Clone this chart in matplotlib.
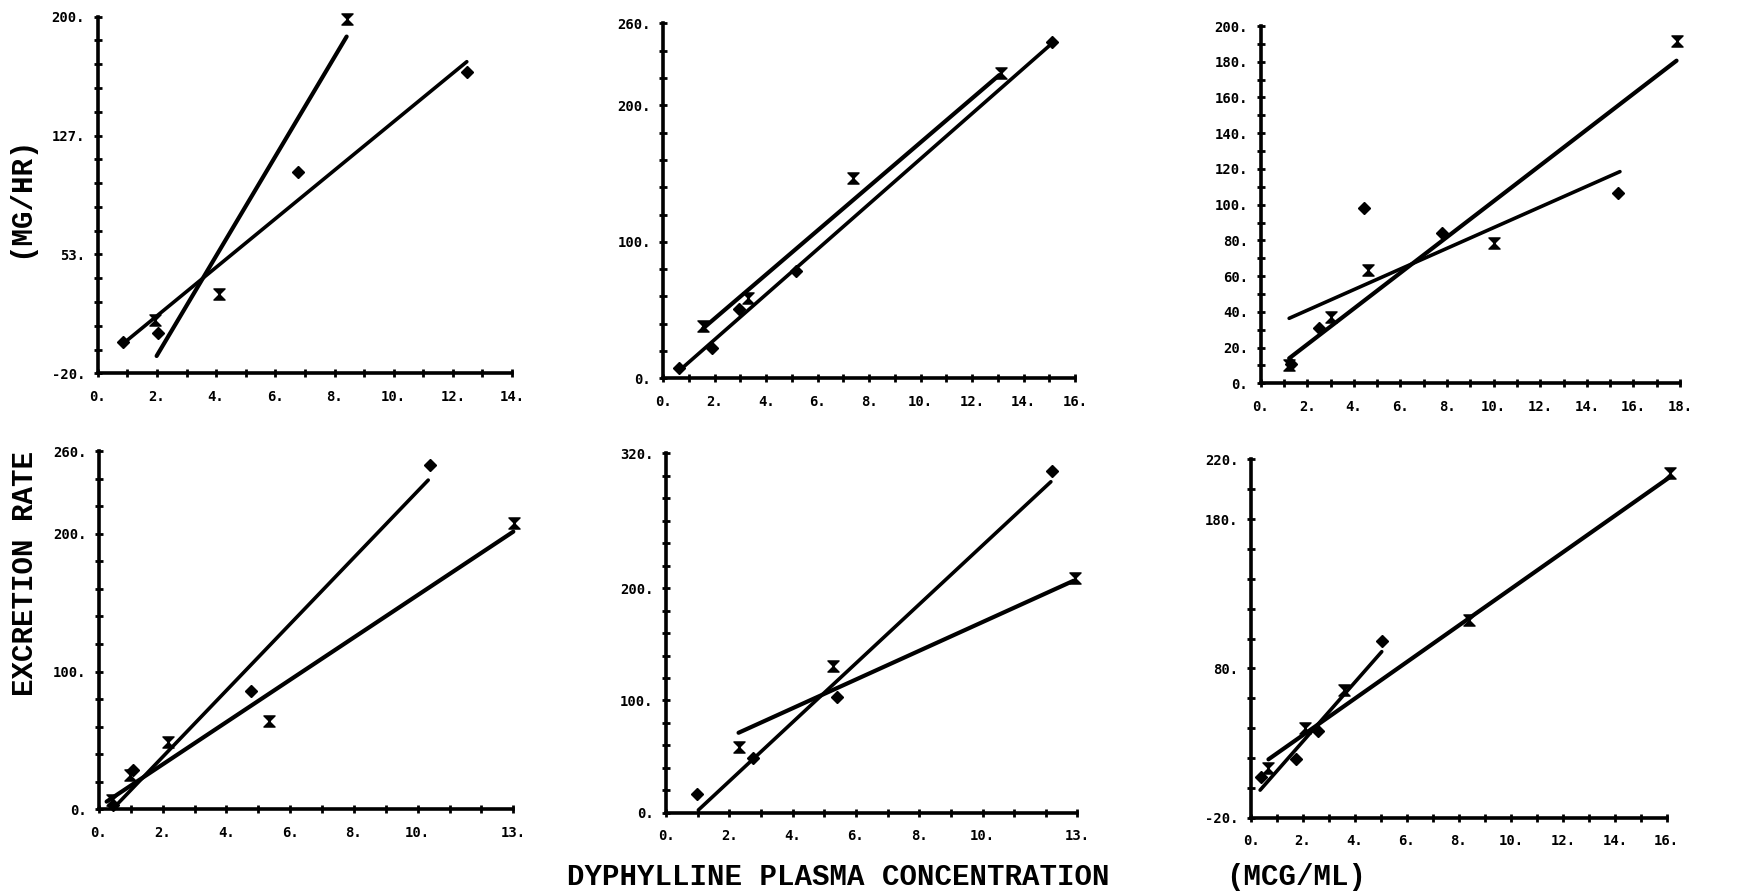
import numpy as np
import matplotlib
matplotlib.use('Agg')
from matplotlib import pyplot as plt
from matplotlib.path import Path

# ---- values ----
# panel 1 (top left)
p1_diam_x = [0.87, 2.05, 6.78, 12.47]
p1_diam_y = [-0.5, 4.7, 104.4, 166.0]
p1_hour_x = [1.94, 4.10, 8.41]
p1_hour_y = [12.9, 28.7, 198.6]
p1_diam_fit_x = [0.87, 12.47]
p1_diam_fit_y = [-1.5, 172.2]
p1_hour_fit_x = [1.99, 8.41]
p1_hour_fit_y = [-9.3, 187.7]

# panel 2 (top middle)
p2_diam_x = [0.61, 1.90, 2.95, 5.16, 15.09]
p2_diam_y = [7.8, 22.0, 50.5, 78.9, 246.6]
p2_hour_x = [1.55, 3.30, 7.36, 13.12]
p2_hour_y = [38.3, 58.6, 146.5, 223.4]
p2_diam_fit_x = [0.65, 15.03]
p2_diam_fit_y = [6.1, 244.1]
p2_hour_fit_x = [1.55, 13.06]
p2_hour_fit_y = [36.6, 222.2]

# panel 3 (top right)
p3_diam_x = [1.30, 2.52, 4.45, 7.77, 15.35]
p3_diam_y = [11.0, 30.8, 97.9, 84.3, 106.7]
p3_hour_x = [1.23, 3.00, 4.62, 10.01, 17.88]
p3_hour_y = [10.3, 37.3, 63.4, 78.4, 191.8]
p3_diam_fit_x = [1.22, 15.42]
p3_diam_fit_y = [36.4, 118.5]
p3_hour_fit_x = [1.22, 17.85]
p3_hour_fit_y = [14.0, 180.6]

# panel 4 (bottom left)
p4_diam_x = [0.45, 1.08, 4.76, 10.39]
p4_diam_y = [3.0, 28.5, 86.1, 249.8]
p4_hour_x = [0.40, 0.97, 2.18, 5.35, 13.03]
p4_hour_y = [6.8, 24.9, 49.1, 64.3, 208.0]
p4_diam_fit_x = [0.45, 10.33]
p4_diam_fit_y = [0.7, 238.9]
p4_hour_fit_x = [0.24, 13.0]
p4_hour_fit_y = [5.6, 201.5]

# panel 5 (bottom middle)
p5_diam_x = [0.99, 2.74, 5.40, 12.19]
p5_diam_y = [16.6, 48.4, 103.3, 304.5]
p5_hour_x = [2.29, 5.26, 12.93]
p5_hour_y = [58.8, 130.9, 208.7]
p5_diam_fit_x = [1.02, 12.16]
p5_diam_fit_y = [2.4, 294.7]
p5_hour_fit_x = [2.29, 12.88]
p5_hour_fit_y = [71.2, 206.6]

# panel 6 (bottom right)
p6_diam_x = [0.37, 1.73, 2.59, 5.03]
p6_diam_y = [7.0, 19.1, 38.3, 98.3]
p6_hour_x = [0.64, 2.08, 3.56, 8.37, 16.14]
p6_hour_y = [13.0, 39.8, 65.5, 112.4, 211.0]
p6_diam_fit_x = [0.35, 5.03]
p6_diam_fit_y = [-1.5, 91.2]
p6_hour_fit_x = [0.67, 16.14]
p6_hour_fit_y = [19.1, 208.4]

# axis ranges, tick steps and which ticks carry a label
p1_xticks, p1_xlabeled = np.arange(0, 15), [0, 2, 4, 6, 8, 10, 12, 14]
p1_yticks, p1_ylabels = np.linspace(-20, 200, 16), {0: '-20.', 5: '53.', 10: '127.', 15: '200.'}
p2_xticks, p2_xlabeled = np.arange(0, 17), [0, 2, 4, 6, 8, 10, 12, 14, 16]
p2_yticks, p2_ylabels = np.arange(0, 261, 20), {0: '0.', 5: '100.', 10: '200.', 13: '260.'}
p3_xticks, p3_xlabeled = np.arange(0, 19), [0, 2, 4, 6, 8, 10, 12, 14, 16, 18]
p3_yticks, p3_ylabels = np.arange(0, 201, 10), {i: '%d.' % (i * 10) for i in range(0, 21, 2)}
p4_xticks, p4_xlabeled = np.arange(0, 14), [0, 2, 4, 6, 8, 10, 13]
p4_yticks, p4_ylabels = np.arange(0, 261, 20), {0: '0.', 5: '100.', 10: '200.', 13: '260.'}
p5_xticks, p5_xlabeled = np.arange(0, 14), [0, 2, 4, 6, 8, 10, 13]
p5_yticks, p5_ylabels = np.arange(0, 321, 20), {0: '0.', 5: '100.', 10: '200.', 16: '320.'}
p6_xticks, p6_xlabeled = np.arange(0, 17), [0, 2, 4, 6, 8, 10, 12, 14, 16]
p6_yticks, p6_ylabels = np.arange(-20, 221, 20), {0: '-20.', 5: '80.', 10: '180.', 12: '220.'}

# axes rectangles in figure fraction (left, bottom, width, height)
rects = [
    [0.0554, 0.5824, 0.2349, 0.3990],
    [0.3760, 0.5768, 0.2334, 0.3970],
    [0.7147, 0.5712, 0.2377, 0.3997],
    [0.0561, 0.0947, 0.2349, 0.4008],
    [0.3776, 0.0909, 0.2332, 0.4020],
    [0.7092, 0.0853, 0.2357, 0.4009],
]

panels = [
    (p1_diam_x, p1_diam_y, p1_hour_x, p1_hour_y, p1_diam_fit_x, p1_diam_fit_y, p1_hour_fit_x, p1_hour_fit_y,
     p1_xticks, p1_xlabeled, p1_yticks, p1_ylabels),
    (p2_diam_x, p2_diam_y, p2_hour_x, p2_hour_y, p2_diam_fit_x, p2_diam_fit_y, p2_hour_fit_x, p2_hour_fit_y,
     p2_xticks, p2_xlabeled, p2_yticks, p2_ylabels),
    (p3_diam_x, p3_diam_y, p3_hour_x, p3_hour_y, p3_diam_fit_x, p3_diam_fit_y, p3_hour_fit_x, p3_hour_fit_y,
     p3_xticks, p3_xlabeled, p3_yticks, p3_ylabels),
    (p4_diam_x, p4_diam_y, p4_hour_x, p4_hour_y, p4_diam_fit_x, p4_diam_fit_y, p4_hour_fit_x, p4_hour_fit_y,
     p4_xticks, p4_xlabeled, p4_yticks, p4_ylabels),
    (p5_diam_x, p5_diam_y, p5_hour_x, p5_hour_y, p5_diam_fit_x, p5_diam_fit_y, p5_hour_fit_x, p5_hour_fit_y,
     p5_xticks, p5_xlabeled, p5_yticks, p5_ylabels),
    (p6_diam_x, p6_diam_y, p6_hour_x, p6_hour_y, p6_diam_fit_x, p6_diam_fit_y, p6_hour_fit_x, p6_hour_fit_y,
     p6_xticks, p6_xlabeled, p6_yticks, p6_ylabels),
]

# hourglass symbol like the old plotter's "X"
hourglass = Path([(-1, 1), (1, 1), (-1, -1), (1, -1), (-1, 1)],
                 [Path.MOVETO, Path.LINETO, Path.LINETO, Path.LINETO, Path.CLOSEPOLY])

tick_font = {'family': 'DejaVu Sans Mono', 'weight': 'bold', 'size': 10}
label_font = {'family': 'Liberation Mono', 'weight': 'bold', 'size': 21}

fig = plt.figure(figsize=(17.64, 8.94), dpi=100)

for rect, p in zip(rects, panels):
    dx, dy, hx, hy, dfx, dfy, hfx, hfy, xt, xlab, yt, ylab = p
    ax = fig.add_axes(rect)
    ax.plot(dfx, dfy, color='black', lw=2.6, solid_capstyle='round', clip_on=False)
    ax.plot(hfx, hfy, color='black', lw=3.0, solid_capstyle='round', clip_on=False)
    ax.plot(dx, dy, linestyle='none', marker='D', ms=6, color='black', clip_on=False)
    ax.plot(hx, hy, linestyle='none', marker=hourglass, ms=8, color='black', clip_on=False)

    ax.set_xlim(xt[0], xt[-1])
    ax.set_ylim(yt[0], yt[-1])
    ax.set_xticks(xt)
    ax.set_xticklabels(['%d.' % v if v in xlab else '' for v in xt], fontdict=tick_font)
    ax.set_yticks(yt)
    ax.set_yticklabels([ylab.get(i, '') for i in range(len(yt))], fontdict=tick_font)

    for side in ['top', 'right']:
        ax.spines[side].set_visible(False)
    for side in ['left', 'bottom']:
        ax.spines[side].set_linewidth(2.6)
    ax.tick_params(direction='inout', length=6, width=2, color='black')
    ax.tick_params(axis='x', pad=9)
    ax.tick_params(axis='y', pad=6)
    ax.patch.set_alpha(0)

fig.text(0.0113, 0.78, '(MG/HR)', rotation=90, ha='center', va='center', fontdict=label_font)
fig.text(0.0142, 0.358, 'EXCRETION RATE', rotation=90, ha='center', va='center', fontdict=label_font)
fig.text(0.475, 0.0185, 'DYPHYLLINE PLASMA CONCENTRATION', ha='center', va='center', fontdict=label_font)
fig.text(0.735, 0.0185, '(MCG/ML)', ha='center', va='center', fontdict=label_font)

fig.savefig('out.png', dpi=100)
